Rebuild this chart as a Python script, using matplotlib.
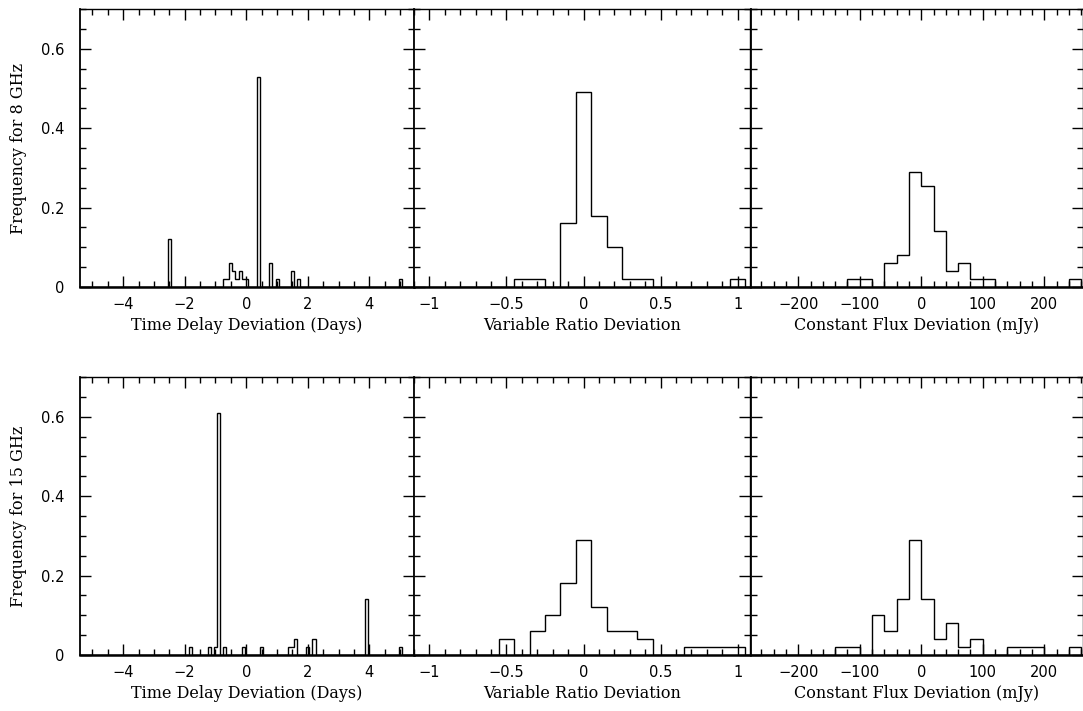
import numpy as np
import matplotlib
matplotlib.use('Agg')
import matplotlib.pyplot as plt
from matplotlib.ticker import MultipleLocator, FuncFormatter

# time delay deviation (days), bins of 0.1 day
td8_centers = [-2.5, -0.7, -0.6, -0.5, -0.4, -0.3, -0.2, -0.1, 0.0, 0.4, 0.8, 1.0, 1.5, 1.7, 5.0]
td8_freq = [0.12, 0.02, 0.02, 0.06, 0.04, 0.02, 0.04, 0.02, 0.02, 0.53, 0.06, 0.02, 0.04, 0.02, 0.02]
td15_centers = [-1.8, -1.2, -1.0, -0.9, -0.7, -0.1, 0.5, 1.4, 1.5, 1.6, 2.0, 2.2, 3.9, 5.0]
td15_freq = [0.02, 0.02, 0.02, 0.61, 0.02, 0.02, 0.02, 0.02, 0.02, 0.04, 0.02, 0.04, 0.14, 0.02]

# variable ratio deviation, bins of 0.1
vr8_centers = [-0.4, -0.3, -0.1, 0.0, 0.1, 0.2, 0.3, 0.4, 1.0]
vr8_freq = [0.02, 0.02, 0.16, 0.49, 0.18, 0.10, 0.02, 0.02, 0.02]
vr15_centers = [-0.5, -0.3, -0.2, -0.1, 0.0, 0.1, 0.2, 0.3, 0.4, 0.7, 0.8, 0.9, 1.0]
vr15_freq = [0.04, 0.06, 0.10, 0.18, 0.29, 0.12, 0.06, 0.06, 0.04, 0.02, 0.02, 0.02, 0.02]

# constant flux deviation (mJy), bins of 20 mJy
cf8_centers = [-110, -90, -50, -30, -10, 10, 30, 50, 70, 90, 110, 250]
cf8_freq = [0.02, 0.02, 0.06, 0.08, 0.29, 0.255, 0.14, 0.04, 0.06, 0.02, 0.02, 0.02]
cf15_centers = [-130, -110, -70, -50, -30, -10, 10, 30, 50, 70, 90, 150, 170, 190, 250]
cf15_freq = [0.02, 0.02, 0.10, 0.06, 0.14, 0.29, 0.14, 0.04, 0.08, 0.02, 0.04, 0.02, 0.02, 0.02, 0.02]

xlabels = ['Time Delay Deviation (Days)', 'Variable Ratio Deviation', 'Constant Flux Deviation (mJy)']
ylabels = ['Frequency for 8 GHz', 'Frequency for 15 GHz']

bins = [np.arange(-5.45, 5.5, 0.1), np.arange(-1.15, 1.2, 0.1), np.arange(-280, 281, 20)]
xlims = [(-5.4, 5.45), (-1.1, 1.08), (-277, 263)]
xmajor = [2, 0.5, 100]
xminor = [0.5, 0.1, 20]

data = [[(td8_centers, td8_freq), (vr8_centers, vr8_freq), (cf8_centers, cf8_freq)],
        [(td15_centers, td15_freq), (vr15_centers, vr15_freq), (cf15_centers, cf15_freq)]]

fig = plt.figure(figsize=(10.83, 7.11), dpi=100)

lefts = [0.0739, 0.3823, 0.6934]
widths = [0.3084, 0.3102, 0.3066]
bottoms = [0.5963, 0.0788]
height = 0.391

serif = 'DejaVu Serif'
fmt = FuncFormatter(lambda v, p: '0' if abs(v) < 1e-9 else ('%g' % v).replace('-', '\u2212'))

for r in range(2):
    for c in range(3):
        ax = fig.add_axes([lefts[c], bottoms[r], widths[c], height])
        x, w = data[r][c]
        ax.hist(x, bins=bins[c], weights=w, histtype='step', color='black', linewidth=1.0)
        ax.set_xlim(*xlims[c])
        ax.set_ylim(0, 0.7)
        ax.xaxis.set_major_locator(MultipleLocator(xmajor[c]))
        ax.xaxis.set_minor_locator(MultipleLocator(xminor[c]))
        ax.yaxis.set_major_locator(MultipleLocator(0.2))
        ax.yaxis.set_minor_locator(MultipleLocator(0.05))
        ax.xaxis.set_major_formatter(fmt)
        ax.tick_params(which='both', direction='in', top=True, right=True, width=1.0)
        ax.tick_params(which='major', length=8)
        ax.tick_params(which='minor', length=4)
        ax.tick_params(axis='x', labelsize=10.5, pad=7)
        ax.tick_params(axis='y', labelsize=10.5, pad=11)
        if c == 0:
            ax.yaxis.set_major_formatter(fmt)
            ax.set_ylabel(ylabels[r], family=serif, fontsize=11.5, labelpad=10)
        else:
            ax.set_yticklabels([])
        ax.set_xlabel(xlabels[c], family=serif, fontsize=11.5, labelpad=4)
        ax.spines['top'].set_linewidth(1.0)
        ax.spines['right'].set_linewidth(1.0)
        ax.spines['left'].set_linewidth(1.3)
        ax.spines['bottom'].set_linewidth(1.8)

fig.savefig('out.png', dpi=100)
